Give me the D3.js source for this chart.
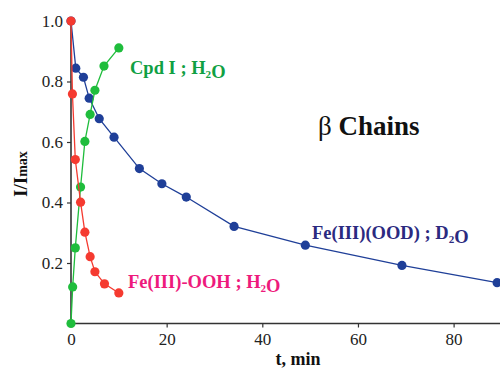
<!DOCTYPE html>
<html>
<head>
<meta charset="utf-8">
<script src="https://cdn.jsdelivr.net/npm/d3@7"></script>
<style>
  body { margin: 0; background: #fff; }
  svg { display: block; }
  svg text { font-family: "Liberation Serif", "Times New Roman", "DejaVu Serif", serif; }
</style>
</head>
<body>
<svg id="chart" width="500" height="376"></svg>
<script>
// data
var blueT = [0, 1.0, 2.6, 3.8, 5.9, 9.0, 14.3, 19.0, 24.1, 34.1, 49.0, 69.2, 89.1];
var blueI = [1.0, 0.844, 0.814, 0.745, 0.677, 0.616, 0.512, 0.462, 0.418, 0.321, 0.259, 0.192, 0.135];
var greenT = [0, 0.35, 0.9, 2.0, 2.9, 4.0, 5.0, 6.9, 10.0];
var greenI = [0, 0.121, 0.25, 0.451, 0.602, 0.691, 0.771, 0.851, 0.911];
var redT = [0, 0.3, 0.9, 2.0, 2.9, 4.0, 5.0, 7.0, 10.0];
var redI = [1.0, 0.759, 0.542, 0.401, 0.302, 0.221, 0.171, 0.131, 0.101];
var xTicks = [0, 20, 40, 60, 80];
var yTicks = [0.2, 0.4, 0.6, 0.8, 1.0];

var svg = d3.select("#chart");

var x = d3.scaleLinear().domain([0, 89.7]).range([71, 500]),
    y = d3.scaleLinear().domain([0, 1]).range([323.5, 21]);

// axes
var xAxis = svg.append("g")
    .attr("transform", "translate(0," + y(0) + ")")
    .call(d3.axisBottom(x).tickValues(xTicks).tickSize(4).tickPadding(5)
        .tickFormat(d3.format("d")));
xAxis.select(".domain").attr("d", "M" + x(0) + ",0H500");
xAxis.selectAll(".tick").filter(function (d) { return d === 0; }).select("line").remove();

var yAxis = svg.append("g")
    .attr("transform", "translate(" + x(0) + ",0)")
    .call(d3.axisLeft(y).tickValues(yTicks).tickSize(4).tickPadding(4)
        .tickFormat(d3.format(".1f")));
yAxis.select(".domain").attr("d", "M0," + y(0) + "V" + y(1));

svg.selectAll("g").attr("font-family", null);
svg.selectAll(".domain").attr("stroke", "#333").attr("stroke-width", 1.6);
svg.selectAll(".tick line").attr("stroke", "#333").attr("stroke-width", 1.2);
svg.selectAll(".tick text")
    .attr("font-size", 17)
    .attr("fill", "#222");

// series
function drawSeries(ts, vs, color) {
    var pts = ts.map(function (t, i) { return [t, vs[i]]; });
    svg.append("path")
        .datum(pts)
        .attr("fill", "none")
        .attr("stroke", color)
        .attr("stroke-width", 1.3)
        .attr("d", d3.line().x(function (d) { return x(d[0]); }).y(function (d) { return y(d[1]); }));
    svg.append("g").selectAll("circle")
        .data(pts)
        .enter().append("circle")
        .attr("cx", function (d) { return x(d[0]); })
        .attr("cy", function (d) { return y(d[1]); })
        .attr("r", 4.6)
        .attr("fill", color);
}
drawSeries(blueT, blueI, "#1f3f98");
drawSeries(greenT, greenI, "#1fbd3c");
drawSeries(redT, redI, "#f53a30");

// labels
function label(xp, yp, parts, color, size) {
    var t = svg.append("text")
        .attr("x", xp).attr("y", yp)
        .attr("font-weight", "bold")
        .attr("font-size", size)
        .attr("fill", color);
    parts.forEach(function (p) {
        if (p.sub) {
            t.append("tspan").attr("font-size", size * 0.6).attr("dy", 4).text(p.s);
            t.append("tspan").attr("dy", -4).text("");
        } else {
            t.append("tspan").text(p.s);
        }
    });
    return t;
}
label(130, 74, [{s: "Cpd I ; H"}, {s: "2", sub: true}, {s: "O"}], "#10a043", 18.5);
label(128, 288, [{s: "Fe(III)-OOH ; H"}, {s: "2", sub: true}, {s: "O"}], "#ee1a7c", 18.5);
label(312, 239, [{s: "Fe(III)(OOD) ; D"}, {s: "2", sub: true}, {s: "O"}], "#2b2a80", 18.5);

svg.append("text")
    .attr("x", 318).attr("y", 135)
    .attr("font-size", 27)
    .attr("fill", "#111")
    .call(function (t) {
        t.append("tspan").text("\u03b2 ");
        t.append("tspan").attr("font-weight", "bold").text("Chains");
    });

svg.append("text")
    .attr("x", 298).attr("y", 365)
    .attr("text-anchor", "middle")
    .attr("font-weight", "bold")
    .attr("font-size", 18)
    .attr("fill", "#111")
    .text("t, min");

svg.append("text")
    .attr("transform", "translate(27,174) rotate(-90)")
    .attr("text-anchor", "middle")
    .attr("font-weight", "bold")
    .attr("font-size", 19)
    .attr("fill", "#111")
    .call(function (t) {
        t.append("tspan").text("I/I");
        t.append("tspan").attr("font-size", 14).text("max");
    });
</script>
</body>
</html>
